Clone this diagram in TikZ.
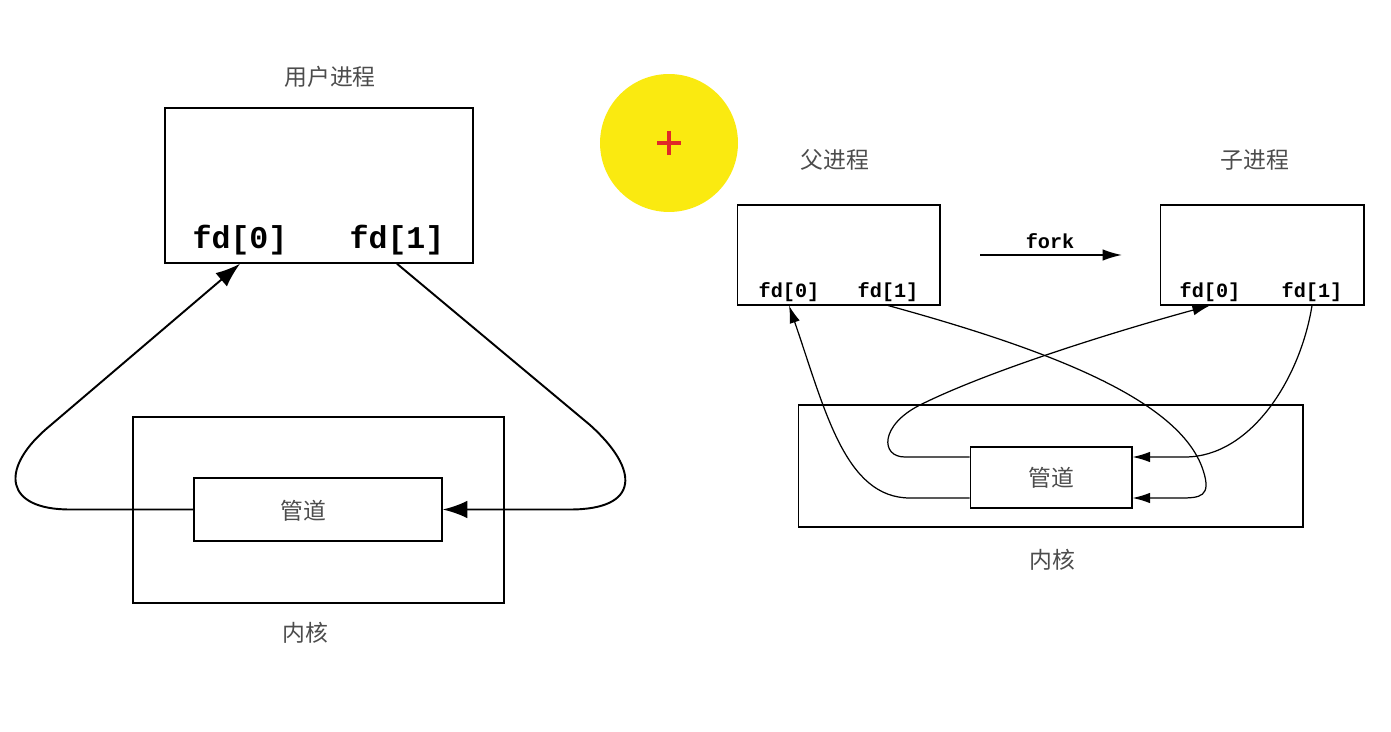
\documentclass[tikz,border=0pt]{standalone}
\usepackage{fontspec}
\setmonofont{Liberation Mono}
\newfontfamily\cjk{Noto Sans CJK SC}
\usetikzlibrary{arrows.meta}
\definecolor{hilite}{HTML}{FAEA10}
\definecolor{cursorred}{HTML}{E02828}
\tikzset{block/.style = {draw, line width=0.9pt, rectangle, inner sep=0pt},
         cjklabel/.style = {font=\cjk\fontsize{13}{15}\selectfont, text=black!70},
         fdbig/.style = {font=\ttfamily\bfseries\fontsize{18}{20}\selectfont},
         fdsmall/.style = {font=\ttfamily\bfseries\fontsize{11.5}{13}\selectfont},
         bigarrow/.style = {-{Latex[length=14pt,width=10pt]}, line width=1.1pt},
         smallarrow/.style = {-{Latex[length=10pt,width=6pt]}, line width=0.7pt}}

\begin{document}
\begin{tikzpicture}[x=0.02cm, y=-0.02cm]
        \useasboundingbox (0,0) rectangle (1391,732);

        % cursor highlight
        \fill[hilite] (669,143) circle (1.38cm);
        \draw[cursorred, line width=2pt] (657,143) -- (681,143) (669,131) -- (669,155);

        % left: one process
        \node[cjklabel] (usertitle) at (330,77) {用户进程};
        \node[block, minimum width=6.16cm, minimum height=3.1cm] (user) at (319,185.5) {};
        \node[fdbig] (ufd0) at (240,240) {fd[0]};
        \node[fdbig] (ufd1) at (397,240) {fd[1]};
        \node[block, minimum width=7.42cm, minimum height=3.72cm] (lkernel) at (318.5,510) {};
        \node[block, minimum width=4.96cm, minimum height=1.26cm] (lpipe) at (318,509.5) {};
        \node[cjklabel] (lpipelbl) at (303,511) {管道};
        \node[cjklabel] (lkernellbl) at (305,633) {内核};

        \draw[bigarrow] (lpipe.west) -- (70,509.5) .. controls (5,509.5) and (0,470) .. (45,430) -- (ufd0 |- user.south);
        \draw[bigarrow] (ufd1 |- user.south) -- (590,425) .. controls (640,470) and (640,509.5) .. (570,509.5) -- (lpipe.east);

        % right: after fork
        \node[cjklabel] (parenttitle) at (835,160) {父进程};
        \node[cjklabel] (childtitle) at (1255,160) {子进程};
        \node[block, semithick, minimum width=4.06cm, minimum height=2cm] (parent) at (838.5,255) {};
        \node[block, semithick, minimum width=4.08cm, minimum height=2cm] (child) at (1262,255) {};
        \node[fdsmall] (pfd0) at (789,292) {fd[0]};
        \node[fdsmall] (pfd1) at (888,292) {fd[1]};
        \node[fdsmall] (cfd0) at (1210,292) {fd[0]};
        \node[fdsmall] (cfd1) at (1312,292) {fd[1]};

        \node[fdsmall] (forklbl) at (1050,241) {fork};
        \coordinate (forkstart) at (980,255);
        \coordinate (forkend) at (1122,255);
        \draw[-{Latex[length=11pt,width=6.5pt]}, line width=0.9pt] (forkstart) -- (forkend);

        \node[block, semithick, minimum width=10.1cm, minimum height=2.44cm] (rkernel) at (1050.5,466) {};
        \node[block, semithick, minimum width=3.24cm, minimum height=1.22cm, cjklabel] (rpipe) at (1051,477.5) {管道};
        \node[cjklabel] (rkernellbl) at (1052,560) {内核};

        \draw[smallarrow] (cfd1 |- child.south) .. controls (1300,380) and (1250,457) .. (1185,457) -- ([yshift=0.41cm]rpipe.east);
        \draw[smallarrow] (pfd1 |- parent.south) .. controls (1050,350) and (1180,400) .. (1203,470)
              .. controls (1212,497) and (1200,498) .. (1180,498) -- ([yshift=-0.41cm]rpipe.east);
        \draw[smallarrow] ([yshift=0.41cm]rpipe.west) -- (905,457) .. controls (880,457) and (880,425) .. (920,405)
              .. controls (990,370) and (1120,330) .. (cfd0 |- child.south);
        \draw[smallarrow] ([yshift=-0.41cm]rpipe.west) -- (910,498) .. controls (845,498) and (825,410) .. (pfd0 |- parent.south);
\end{tikzpicture}
\end{document}
